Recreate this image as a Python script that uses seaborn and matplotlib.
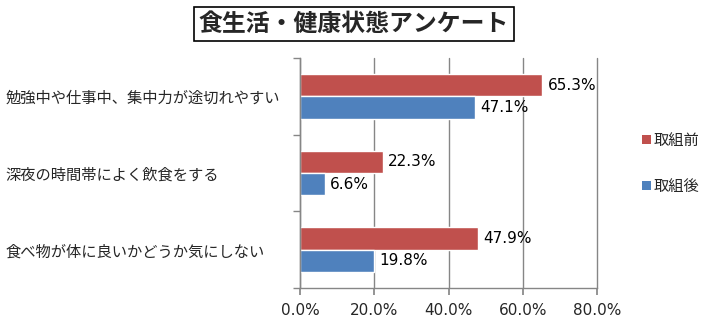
import matplotlib
matplotlib.use("Agg")
import matplotlib.pyplot as plt
import seaborn as sns
import pandas as pd
from matplotlib.patches import Patch
from matplotlib.ticker import FuncFormatter, FixedLocator

categories = ["勉強中や仕事中、集中力が途切れやすい", "深夜の時間帯によく飲食をする", "食べ物が体に良いかどうか気にしない"]
before = [65.3, 22.3, 47.9]
after = [47.1, 6.6, 19.8]
series = ["取組前", "取組後"]
title = "食生活・健康状態アンケート"
colors = ["#C0504D", "#4F81BD"]

sns.set_theme(style="white")
plt.rcParams['font.family'] = ['Noto Sans CJK JP', 'DejaVu Sans']

df = pd.DataFrame({
    "cat": categories * 2,
    "val": before + after,
    "series": [series[0]] * 3 + [series[1]] * 3,
})

W, H = 701, 326
fig = plt.figure(figsize=(W / 100, H / 100), dpi=100)
ax = fig.add_axes([300 / W, 1 - 288 / H, (597 - 300) / W, (288 - 58) / H])

sns.barplot(data=df, y="cat", x="val", hue="series", orient="h", palette=colors,
            width=0.58, ax=ax, legend=False, saturation=1)

for cont in ax.containers:
    ax.bar_label(cont, labels=[f"{v:.1f}%" for v in cont.datavalues], padding=4,
                 fontsize=11, family=['DejaVu Sans'], color="black")

ax.set_xlim(0, 80)
ax.set_ylim(2.5, -0.5)
ax.set_xticks([0, 20, 40, 60, 80])
ax.xaxis.set_major_formatter(FuncFormatter(lambda v, p: f"{v:.1f}%"))
ax.grid(axis="x", color="#868686", linewidth=1)
for gl in ax.get_xgridlines():
    gl.set_clip_on(False)
ax.set_axisbelow(True)
ax.set_xlabel("")
ax.set_ylabel("")

for s in ["top", "right"]:
    ax.spines[s].set_visible(False)
for s in ["left", "bottom"]:
    ax.spines[s].set_color("#868686")
    ax.spines[s].set_linewidth(1)

ax.tick_params(axis="x", which="major", length=5, color="#868686", direction="out",
               labelsize=11, pad=6, bottom=True)
for lbl in ax.get_xticklabels():
    lbl.set_family(['DejaVu Sans'])

ax.yaxis.set_minor_locator(FixedLocator([-0.5, 0.5, 1.5, 2.5]))
ax.tick_params(axis="y", which="minor", length=5, color="#868686", direction="out", left=True)
ax.tick_params(axis="y", which="major", length=0, labelsize=11, pad=212)
for lbl in ax.get_yticklabels():
    lbl.set_horizontalalignment("left")

handles = [Patch(facecolor=c, edgecolor="none") for c in colors]
fig.legend(handles, series, loc="upper left", bbox_to_anchor=(628 / W, 1 - 118 / H),
           frameon=False, fontsize=11, handlelength=0.6, handleheight=0.6,
           handletextpad=0.2, labelspacing=1.9)

fig.text(354 / W, 1 - 24 / H, title, ha="center", va="center", fontsize=17.2,
         fontweight="bold",
         bbox=dict(boxstyle="square,pad=0.22", facecolor="white", edgecolor="black", linewidth=1.2))

fig.savefig("out.png", dpi=100)
